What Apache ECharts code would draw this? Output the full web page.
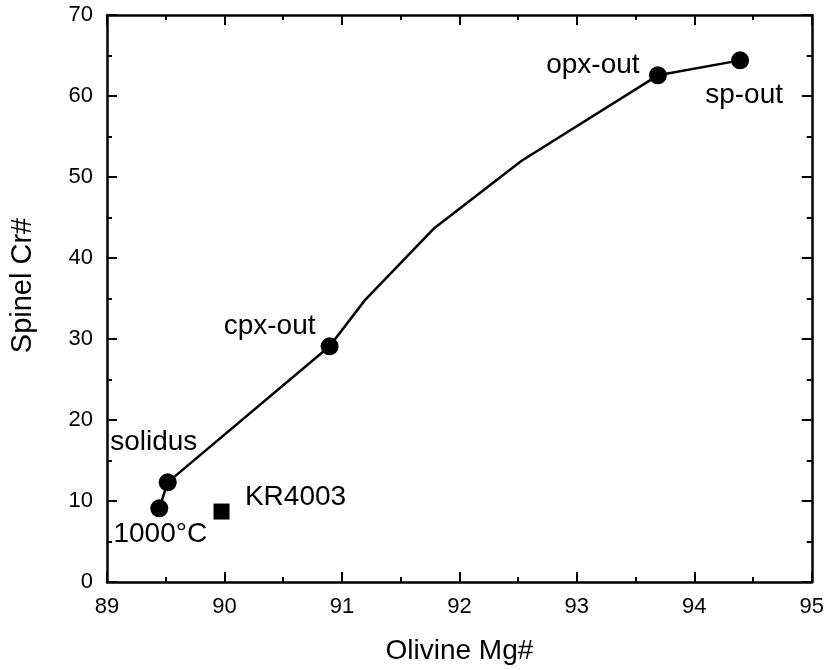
<!DOCTYPE html>
<html>
<head>
<meta charset="utf-8">
<script src="https://cdn.jsdelivr.net/npm/echarts@6/dist/echarts.min.js"></script>
<style>html,body{margin:0;padding:0;background:#fff}#c{width:827px;height:670px}</style>
</head>
<body>
<div id="c"></div>
<script>
// Melting path (olivine Mg#, spinel Cr#)
var pathMg = [89.445, 89.517, 90.895, 91.196, 91.78, 92.53, 93.69, 94.39];
var pathCr = [9.1, 12.3, 29.1, 34.8, 43.6, 52.0, 62.55, 64.4];
// Labelled stages
var stageNames = ['1000°C', 'solidus', 'cpx-out', 'opx-out', 'sp-out'];
var stageMg = [89.445, 89.517, 90.895, 93.69, 94.39];
var stageCr = [9.1, 12.3, 29.1, 62.55, 64.4];
// Sample
var sampleNames = ['KR4003'];
var sampleMg = [89.975];
var sampleCr = [8.7];
// Axis ticks
var xTicks = [89, 90, 91, 92, 93, 94, 95];
var yTicks = [0, 10, 20, 30, 40, 50, 60, 70];

var labelOffsets = {
  '1000°C': [1, 26],
  'solidus': [-14, -40],
  'cpx-out': [-60, -20],
  'opx-out': [-65, -10],
  'sp-out': [4, 35],
  'KR4003': [74, -14]
};

var FONT = 'Liberation Sans';
var labelStyle = function (name) {
  return {
    show: true, position: 'inside', formatter: name,
    offset: labelOffsets[name], color: '#000', fontFamily: FONT, fontSize: 28,
    align: 'center', verticalAlign: 'middle'
  };
};

var chart = echarts.init(document.getElementById('c'), null, {renderer: 'canvas'});

function axisCommon(show) {
  return {
    axisLine: {show: true, onZero: false, lineStyle: {color: '#000', width: 2.5}},
    axisTick: {show: true, inside: true, length: 10, lineStyle: {color: '#000', width: 2}},
    minorTick: {show: true, splitNumber: 2, length: 5, lineStyle: {color: '#000', width: 2}},
    splitLine: {show: false},
    axisLabel: {show: show, color: '#000', fontFamily: FONT, fontSize: 22}
  };
}

var xMain = Object.assign(axisCommon(true), {
  type: 'value', position: 'bottom', min: xTicks[0], max: xTicks[xTicks.length - 1], interval: 1,
  name: 'Olivine Mg#', nameLocation: 'middle', nameGap: 55,
  nameTextStyle: {color: '#000', fontFamily: FONT, fontSize: 28}
});
xMain.axisLabel.margin = 14;
var xTop = Object.assign(axisCommon(false), {
  type: 'value', position: 'top', min: xTicks[0], max: xTicks[xTicks.length - 1], interval: 1
});
var yMain = Object.assign(axisCommon(true), {
  type: 'value', position: 'left', min: yTicks[0], max: yTicks[yTicks.length - 1], interval: 10,
  name: 'Spinel Cr#', nameLocation: 'middle', nameGap: 70,
  nameTextStyle: {color: '#000', fontFamily: FONT, fontSize: 29, padding: [0, 0, 0, 26]}
});
yMain.axisLabel.margin = 14;
var yRight = Object.assign(axisCommon(false), {
  type: 'value', position: 'right', min: yTicks[0], max: yTicks[yTicks.length - 1], interval: 10
});

var pathData = pathMg.map(function (x, i) { return [x, pathCr[i]]; });
var stageData = stageMg.map(function (x, i) {
  return {value: [x, stageCr[i]], label: labelStyle(stageNames[i])};
});
var sampleData = sampleMg.map(function (x, i) {
  return {value: [x, sampleCr[i]], label: labelStyle(sampleNames[i])};
});

chart.setOption({
  animation: false,
  backgroundColor: '#fff',
  grid: {left: 107, right: 15, top: 15, bottom: 85, containLabel: false},
  xAxis: [xMain, xTop],
  yAxis: [yMain, yRight],
  series: [
    {type: 'line', data: pathData, showSymbol: false, symbol: 'none',
     lineStyle: {color: '#000', width: 2.5}, z: 2},
    {type: 'scatter', data: stageData, symbol: 'circle', symbolSize: 18,
     itemStyle: {color: '#000', opacity: 1}, z: 3},
    {type: 'scatter', data: sampleData, symbol: 'rect', symbolSize: 16,
     itemStyle: {color: '#000', opacity: 1}, z: 3}
  ]
});
</script>
</body>
</html>
